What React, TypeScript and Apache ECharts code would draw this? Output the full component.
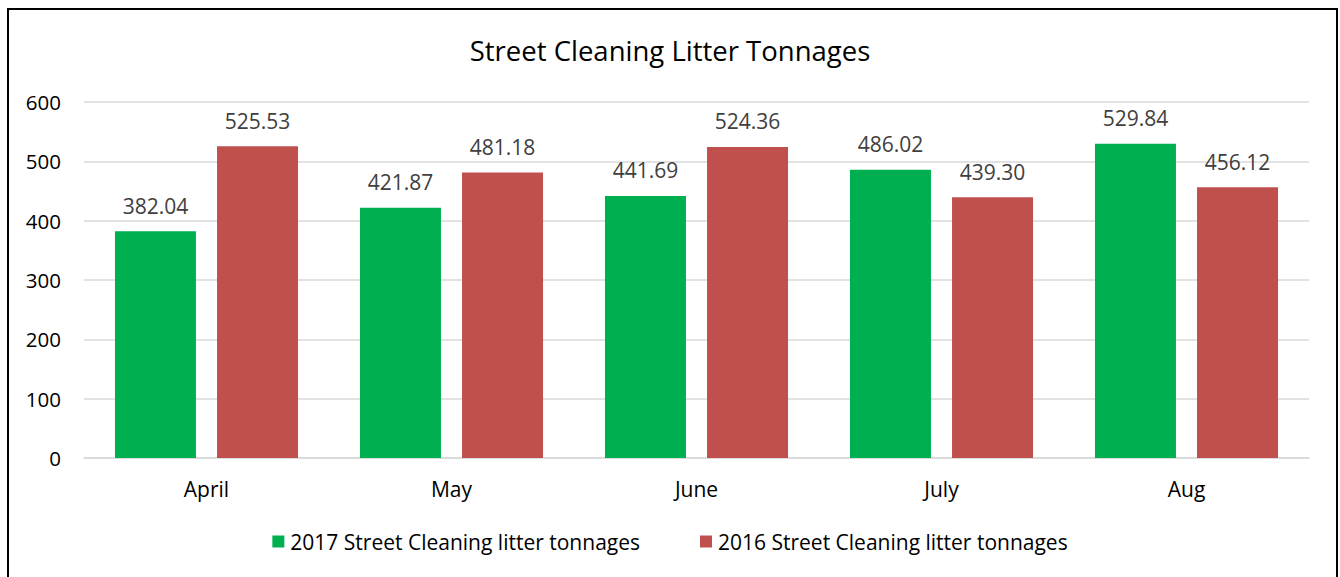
import React, { useEffect, useRef } from "react";
import * as echarts from "echarts";

const categories = ["April", "May", "June", "July", "Aug"];
const series2017 = [382.04, 421.87, 441.69, 486.02, 529.84];
const series2016 = [525.53, 481.18, 524.36, 439.3, 456.12];
const seriesNames = ["2017 Street Cleaning litter tonnages", "2016 Street Cleaning litter tonnages"];
const titleText = "Street Cleaning Litter Tonnages";

const FONT = "'Open Sans', Lato, sans-serif";

export default function App() {
  const ref = useRef<HTMLDivElement>(null);
  useEffect(() => {
    if (!ref.current) return;
    const chart = echarts.init(ref.current, undefined, { renderer: "svg" });
    chart.setOption({
      animation: false,
      backgroundColor: "#ffffff",
      title: {
        text: titleText,
        left: "center",
        top: 31,
        textStyle: { fontFamily: FONT, fontSize: 27.5, fontWeight: "normal", color: "#000000" },
      },
      legend: {
        bottom: 20,
        left: "center",
        itemWidth: 12,
        itemHeight: 12,
        itemGap: 60,
        icon: "rect",
        textStyle: { fontFamily: FONT, fontSize: 21, color: "#000000", padding: [0, 0, 0, 1] },
        data: seriesNames,
      },
      grid: { left: 84, right: 31, top: 102, bottom: 119, containLabel: false },
      xAxis: {
        type: "category",
        data: categories,
        axisLine: { show: true, lineStyle: { color: "#d9d9d9", width: 1.5 } },
        axisTick: { show: false },
        axisLabel: { fontFamily: FONT, fontSize: 21, color: "#000000", margin: 20 },
      },
      yAxis: {
        type: "value",
        min: 0,
        max: 600,
        interval: 100,
        axisLine: { show: false },
        axisTick: { show: false },
        splitLine: { lineStyle: { color: "#d9d9d9", width: 1.5 } },
        axisLabel: { fontFamily: FONT, fontSize: 20.5, color: "#000000", margin: 23 },
      },
      series: [
        {
          name: seriesNames[0],
          type: "bar",
          data: series2017,
          barWidth: 81,
          barGap: "26%",
          itemStyle: { color: "#00b050" },
          label: {
            show: true,
            position: "top",
            distance: 15,
            formatter: (p: any) => p.value.toFixed(2),
            fontFamily: FONT,
            fontSize: 21,
            color: "#404040",
          },
        },
        {
          name: seriesNames[1],
          type: "bar",
          data: series2016,
          barWidth: 81,
          itemStyle: { color: "#c0504d" },
          label: {
            show: true,
            position: "top",
            distance: 15,
            formatter: (p: any) => p.value.toFixed(2),
            fontFamily: FONT,
            fontSize: 21,
            color: "#404040",
          },
        },
      ],
      graphic: [
        {
          type: "rect",
          shape: { x: 8, y: 9, width: 1329, height: 600 },
          style: { fill: "none", stroke: "#000000", lineWidth: 2 },
          silent: true,
        },
      ],
    });
    return () => chart.dispose();
  }, []);
  return (
    <div
      ref={ref}
      style={{ position: "fixed", left: 0, top: 0, width: 1340, height: 577 }}
    />
  );
}
